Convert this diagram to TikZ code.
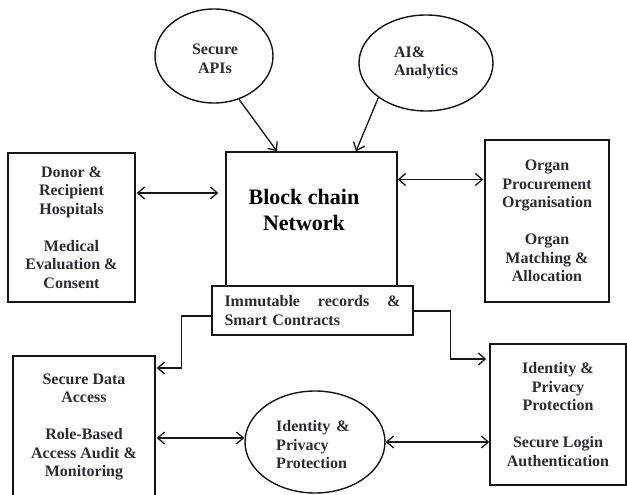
\documentclass[tikz,border=0pt]{standalone}
\usepackage{fontspec}
\setmainfont{Liberation Serif}
\usetikzlibrary{arrows.meta,shapes.geometric,calc}
\definecolor{ink}{HTML}{151515}
\definecolor{txtc}{HTML}{2B2B33}
\newcommand\txtfont{\fontsize{16}{18.5}\selectfont\bfseries}
\tikzset{
  box/.style={draw=ink, line width=1.4pt, fill=white, inner sep=0pt, align=center, font=\txtfont, text=txtc},
  oval/.style={ellipse, draw=ink, line width=1.4pt, inner sep=0pt, font=\txtfont, text=txtc},
  lbl/.style={inner sep=0pt, font=\txtfont, text=txtc},
  arr/.style={-{Straight Barb[length=7pt,width=12pt]}, line width=1.3pt, draw=ink},
  dbl/.style={{Straight Barb[length=7pt,width=12pt]}-{Straight Barb[length=7pt,width=12pt]}, line width=1.3pt, draw=ink}
}
\begin{document}
\begin{tikzpicture}[x=1pt,y=-1pt]
\useasboundingbox (0,0) rectangle (627,495);
\clip (0,0) rectangle (627,495);
\fill[white] (0,0) rectangle (627,495);

% helper coordinates
\coordinate (yA) at (0,193);
\coordinate (yB) at (0,179.5);
\coordinate (yC) at (0,316);
\coordinate (yD) at (0,368);
\coordinate (yE) at (0,311);
\coordinate (yF) at (0,359);
\coordinate (yG) at (0,438);
\coordinate (xS) at (277,0);
\coordinate (xT) at (356,0);

% ellipses
\node[oval, minimum width=118pt, minimum height=94pt] (sapi) at (214,56) {};
\node[lbl, align=center] (sapitext) at (215,59) {Secure\\APIs};
\node[oval, minimum width=134pt, minimum height=96pt, align=left] (ai) at (426,63) {AI\&\\Analytics};
\node[oval, minimum width=140pt, minimum height=102pt] (ip) at (315,442) {};
\node[lbl, align=left] (iptext) at (313,445) {Identity\hspace{6pt}\&\\Privacy\\Protection};

% boxes
\node[box, minimum width=127pt, minimum height=149pt] (donor) at (71.5,227.5)
  {Donor \&\\Recipient\\Hospitals\\[18.5pt]Medical\\Evaluation \&\\Consent};
\node[box, minimum width=124pt, minimum height=162pt] (organ) at (547,221)
  {Organ\\Procurement\\Organisation\\[18.5pt]Organ\\Matching \&\\Allocation};
\node[box, minimum width=171pt, minimum height=134pt] (bc) at (311.5,219) {};
\node[inner sep=0pt, align=center, font=\fontsize{22}{26}\selectfont\bfseries, text=black] (bctext) at (304,209.5) {Block chain\\Network};
\node[box, minimum width=201pt, minimum height=49pt, text width=176pt, align=left] (imm) at (312.5,310.5)
  {Immutable\hfill records\hfill \&\\Smart Contracts};
\node[box, minimum width=142pt, minimum height=142pt] (sda) at (84,427)
  {Secure Data\\Access\\[18.5pt]Role-Based\\Access Audit \&\\Monitoring};
\node[box, minimum width=136pt, minimum height=141pt] (idb) at (558,414.5)
  {Identity \&\\Privacy\\Protection\\[18.5pt]Secure Login\\Authentication};

% connectors
\draw[arr] (sapi.-60) -- (bc.north -| xS);
\draw[arr] (ai.-144) -- (bc.north -| xT);
\draw[dbl, shorten <=1pt, shorten >=7pt] (donor.east |- yA) -- (bc.west |- yA);
\draw[dbl, shorten >=1pt] (bc.east |- yB) -- (organ.west |- yB);
\draw[arr, shorten >=1pt] (imm.west |- yC) -- ++(-30,0) |- (sda.east |- yD);
\draw[arr, shorten >=3pt] (imm.east |- yE) -- ++(37,0) |- (idb.west |- yF);
\draw[dbl, shorten <=1pt] (sda.east |- yG) -- (ip.west |- yG);
\draw[dbl] (ip.east) -- (idb.west |- ip.east);
\end{tikzpicture}
\end{document}
